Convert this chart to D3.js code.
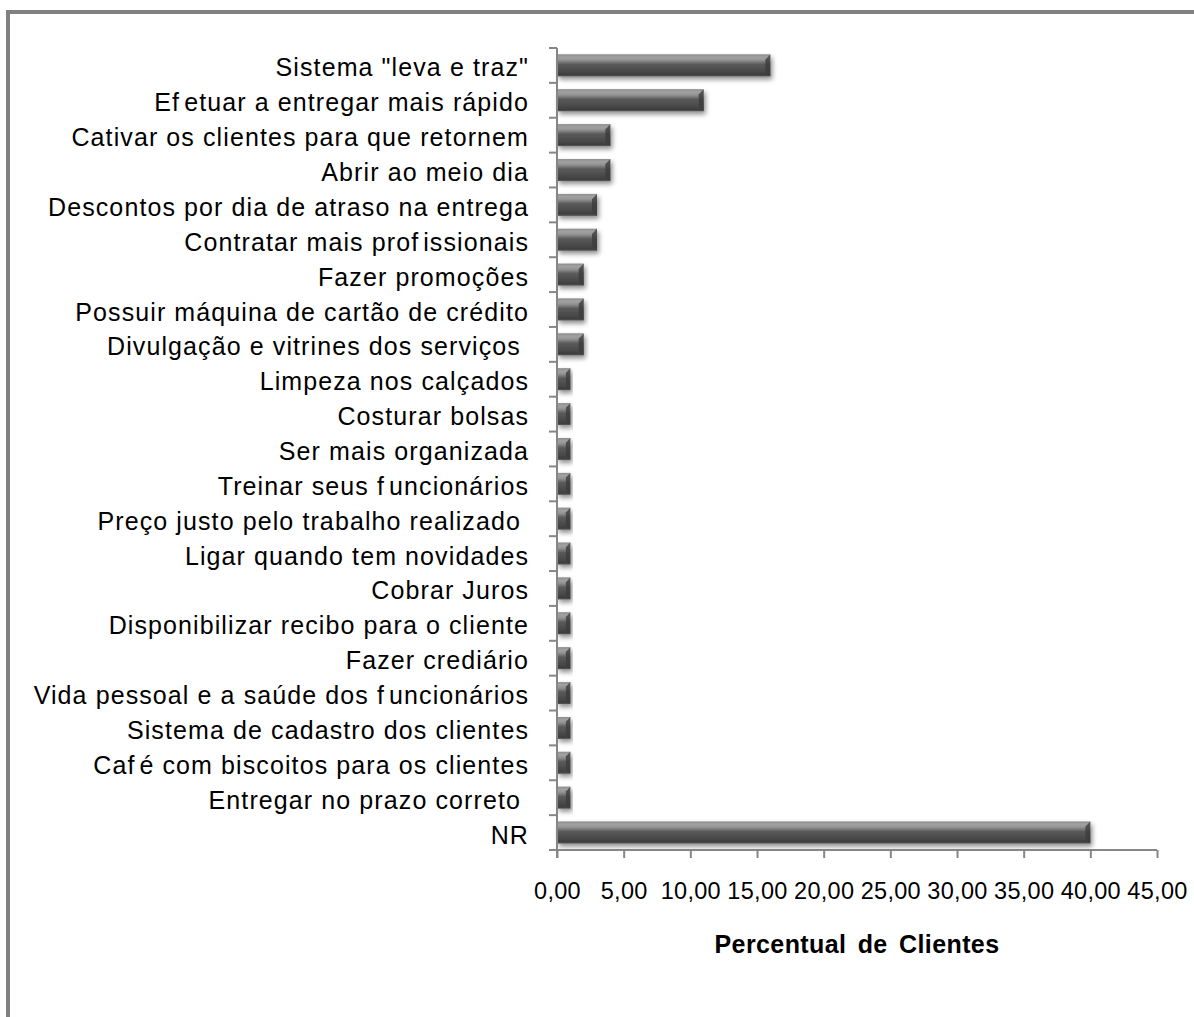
<!DOCTYPE html>
<html>
<head>
<meta charset="utf-8">
<script src="https://cdn.jsdelivr.net/npm/d3@7"></script>
<style>
  html, body { margin: 0; padding: 0; background: #fff; }
  svg { display: block; }
  text { font-family: "Liberation Sans", Arial, sans-serif; white-space: pre; }
</style>
</head>
<body>
<svg id="chart" width="1194" height="1017"></svg>
<script>
const categories = [
  'Sistema "leva e traz"',
  'Efetuar a entregar mais rápido',
  'Cativar os clientes para que retornem',
  'Abrir ao meio dia',
  'Descontos por dia de atraso na entrega',
  'Contratar mais profissionais',
  'Fazer promoções',
  'Possuir máquina de cartão de crédito',
  'Divulgação e vitrines dos serviços ',
  'Limpeza nos calçados',
  'Costurar bolsas',
  'Ser mais organizada',
  'Treinar seus funcionários',
  'Preço justo pelo trabalho realizado ',
  'Ligar quando tem novidades',
  'Cobrar Juros',
  'Disponibilizar recibo para o cliente',
  'Fazer crediário',
  'Vida pessoal e a saúde dos funcionários',
  'Sistema de cadastro dos clientes',
  'Café com biscoitos para os clientes',
  'Entregar no prazo correto ',
  'NR'
];
const values = [16, 11, 4, 4, 3, 3, 2, 2, 2, 1, 1, 1, 1, 1, 1, 1, 1, 1, 1, 1, 1, 1, 40];
const xTicks = [0, 5, 10, 15, 20, 25, 30, 35, 40, 45];
const xTitle = 'Percentual de Clientes';

const svg = d3.select('#chart');

// outer frame
svg.append('rect')
  .attr('x', 8).attr('y', 12)
  .attr('width', 1194).attr('height', 1017)
  .attr('fill', 'none').attr('stroke', '#808080').attr('stroke-width', 4);

const x = d3.scaleLinear().domain([0, 45]).range([557, 1157]);
const y = d3.scaleBand().domain(categories).range([48, 850]).paddingInner(0.37).paddingOuter(0.185);

const defs = svg.append('defs');
const grad = defs.append('linearGradient').attr('id', 'barGrad')
  .attr('x1', 0).attr('y1', 0).attr('x2', 0).attr('y2', 1);
[[0, '#7c7c7c'], [0.12, '#acacac'], [0.28, '#8c8c8c'], [0.45, '#5a5a5a'],
 [0.75, '#4a4a4a'], [0.92, '#3e3e3e'], [1, '#5a5a5a']].forEach(([o, c]) =>
  grad.append('stop').attr('offset', o).attr('stop-color', c));

const flt = defs.append('filter').attr('id', 'shadow')
  .attr('x', '-10%').attr('y', '-30%').attr('width', '130%').attr('height', '180%');
flt.append('feGaussianBlur').attr('in', 'SourceAlpha').attr('stdDeviation', 2.5).attr('result', 'b');
flt.append('feOffset').attr('in', 'b').attr('dx', 2).attr('dy', 3).attr('result', 'o');
flt.append('feComponentTransfer').attr('in', 'o').attr('result', 'o2')
  .append('feFuncA').attr('type', 'linear').attr('slope', 0.45);
const fm = flt.append('feMerge');
fm.append('feMergeNode').attr('in', 'o2');
fm.append('feMergeNode').attr('in', 'SourceGraphic');

// bars
const bars = svg.append('g').selectAll('g.bar').data(categories).enter()
  .append('g').attr('class', 'bar');
bars.append('rect')
  .attr('x', x(0))
  .attr('y', d => y(d))
  .attr('width', (d, i) => x(values[i]) - x(0))
  .attr('height', y.bandwidth())
  .attr('fill', 'url(#barGrad)')
  .attr('filter', 'url(#shadow)');
// bevel at the end of each bar
bars.append('path')
  .attr('d', (d, i) => {
    const xe = x(values[i]), y0 = y(d), h = y.bandwidth(), b = Math.min(5, (x(values[i]) - x(0)) / 3);
    return `M${xe},${y0} L${xe - b},${y0 + b} L${xe - b},${y0 + h - b} L${xe},${y0 + h} Z`;
  })
  .attr('fill', '#3c3c3c').attr('opacity', 0.8);
bars.append('path')
  .attr('d', (d, i) => {
    const xe = x(values[i]), y0 = y(d), h = y.bandwidth(), b = Math.min(5, (x(values[i]) - x(0)) / 3);
    return `M${x(0)},${y0} L${xe},${y0} L${xe - b},${y0 + b} L${x(0)},${y0 + b} Z`;
  })
  .attr('fill', '#9a9a9a').attr('opacity', 0.6);

// y axis
const yAxisG = svg.append('g');
yAxisG.append('line').attr('x1', x(0)).attr('x2', x(0)).attr('y1', 48).attr('y2', 858)
  .attr('stroke', '#868686').attr('stroke-width', 2);
const bounds = categories.map(d => y(d) - y.step() * y.paddingInner() / 2);
bounds.push(850);
yAxisG.selectAll('line.tk').data(bounds).enter().append('line').attr('class', 'tk')
  .attr('x1', x(0) - 8).attr('x2', x(0)).attr('y1', d => d).attr('y2', d => d)
  .attr('stroke', '#868686').attr('stroke-width', 2);
const labels = yAxisG.selectAll('text').data(categories).enter().append('text')
  .attr('x', 529)
  .attr('y', d => y(d) + y.bandwidth() / 2 + 11)
  .attr('text-anchor', 'end')
  .attr('font-size', 25)
  .attr('letter-spacing', 1.1)
  .attr('fill', '#000');
// the original renders a small extra gap after each "f"
labels.each(function (d) {
  const parts = d.split(/(?<=f)/);
  const t = d3.select(this);
  parts.forEach((p, k) => {
    const ts = t.append('tspan').text(p);
    if (k > 0) ts.attr('dx', 4);
  });
});

// x axis
const xAxis = d3.axisBottom(x).tickValues(xTicks).tickSize(8)
  .tickFormat(d => d3.format('.2f')(d).replace('.', ','));
const xg = svg.append('g').attr('transform', 'translate(0,850)').call(xAxis);
xg.select('.domain').attr('stroke', '#868686').attr('stroke-width', 2)
  .attr('d', `M${x(0) - 8},0H${x(45)}`);
xg.selectAll('.tick line').attr('stroke', '#868686').attr('stroke-width', 2);
xg.selectAll('.tick text')
  .attr('font-family', '"Liberation Sans", Arial, sans-serif')
  .attr('font-size', 23.5).attr('letter-spacing', 0.3).attr('fill', '#000')
  .attr('y', 0).attr('dy', null)
  .attr('transform', 'translate(0,49)');

svg.append('text')
  .attr('x', x(22.5)).attr('y', 953)
  .attr('text-anchor', 'middle')
  .attr('font-size', 25).attr('font-weight', 'bold')
  .attr('letter-spacing', 0.4)
  .attr('word-spacing', 4)
  .text(xTitle);
</script>
</body>
</html>
